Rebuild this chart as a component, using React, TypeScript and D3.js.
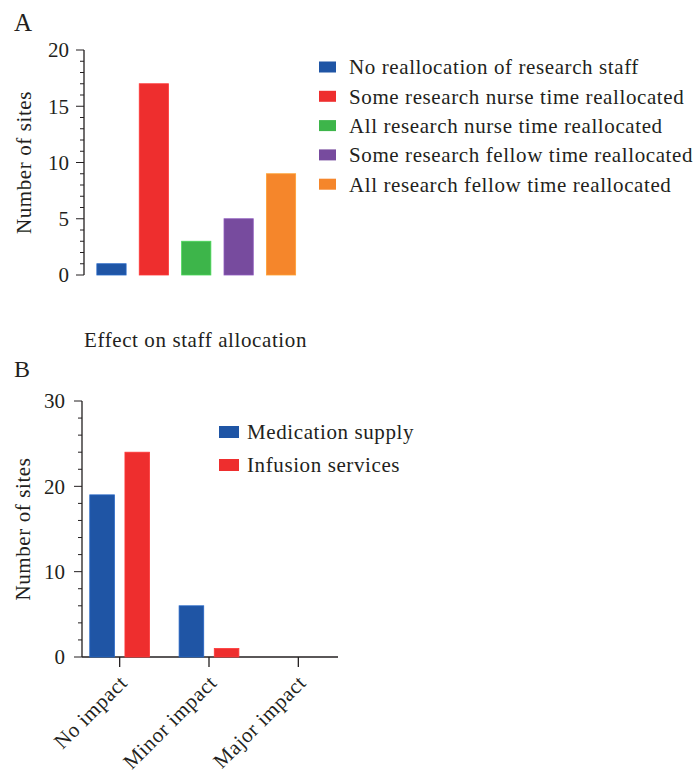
import React from "react";
import * as d3 from "d3";

const allocCategories = [
  "No reallocation of research staff",
  "Some research nurse time reallocated",
  "All research nurse time reallocated",
  "Some research fellow time reallocated",
  "All research fellow time reallocated",
];
const allocValues = [1, 17, 3, 5, 9];
const allocColors = ["#1f55a5", "#ee2e2e", "#3db54a", "#774b9e", "#f5862b"];
const allocTicks = [0, 5, 10, 15, 20];

const impactCategories = ["No impact", "Minor impact", "Major impact"];
const impactSeries = ["Medication supply", "Infusion services"];
const medicationValues = [19, 6, 0];
const infusionValues = [24, 1, 0];
const impactColors = ["#1f55a5", "#ee2e2e"];
const impactTicks = [0, 10, 20, 30];

const FONT = "Liberation Serif, Times New Roman, DejaVu Serif, serif";
const TXT = "#231f20";
const T = { fontFamily: FONT, letterSpacing: "0.6px" } as React.CSSProperties;
const TN = { fontFamily: FONT } as React.CSSProperties;

export default function App() {
  // Panel A
  const aX = 84;
  const yA = d3.scaleLinear().domain([0, 20]).range([275, 50]);
  const xA = d3.scaleBand<string>().domain(allocCategories).range([90.5, 302]).paddingInner(0.31).paddingOuter(0.15);
  const minorA = d3.range(0, 21, 1);

  // Panel B
  const bX = 82;
  const yB = d3.scaleLinear().domain([0, 30]).range([657, 401]);
  const xB = d3.scaleBand<string>().domain(impactCategories).range([75, 343]).padding(0);
  const xSub = d3.scaleBand<string>().domain(impactSeries).range([0, xB.bandwidth()]).paddingInner(0.3).paddingOuter(0.42);
  const minorB = d3.range(0, 31, 2);
  const seriesValues = [medicationValues, infusionValues];

  return (
    <>
      <style>{"html,body{margin:0;padding:0;overflow:hidden;background:#fff}"}</style>
      <svg width={697} height={773} style={{ display: "block", fontFamily: FONT }}>
        {/* Panel A */}
        <g>
          <text x={14} y={31} fontSize={25} fill={TXT} style={TN}>A</text>
          <line x1={aX} x2={aX} y1={yA(20)} y2={yA(0)} stroke={TXT} strokeWidth={1.3} />
          {minorA.map((t) => (
            <line key={"ma" + t} x1={aX - (t % 5 === 0 ? 8 : 4)} x2={aX} y1={yA(t)} y2={yA(t)} stroke={TXT} strokeWidth={1} />
          ))}
          {allocTicks.map((t) => (
            <text key={"ta" + t} x={69} y={yA(t)} dy="0.35em" textAnchor="end" fontSize={21} fill={TXT} style={TN}>{t}</text>
          ))}
          <text transform={`translate(31,${(yA(0) + yA(20)) / 2}) rotate(-90)`} textAnchor="middle" fontSize={21} fill={TXT} style={T}>Number of sites</text>
          {allocCategories.map((c, i) => (
            <rect key={c} x={xA(c)} y={yA(allocValues[i])} width={xA.bandwidth()} height={yA(0) - yA(allocValues[i])}
              fill={allocColors[i]} stroke={d3.color(allocColors[i])!.brighter(0.5).toString()} strokeWidth={0.8} />
          ))}
          {allocCategories.map((c, i) => (
            <g key={"la" + c} transform={`translate(319,${67 + i * 29.3})`}>
              <rect x={0} y={-5.5} width={17} height={11} fill={allocColors[i]} />
              <text x={30} y={0} dy="0.35em" fontSize={21} fill={TXT} style={T}>{c}</text>
            </g>
          ))}
          <text x={84} y={347} fontSize={21} fill={TXT} style={T}>Effect on staff allocation</text>
        </g>

        {/* Panel B */}
        <g>
          <text x={14} y={377} fontSize={24} fill={TXT} style={TN}>B</text>
          <line x1={bX} x2={bX} y1={yB(30)} y2={yB(0)} stroke={TXT} strokeWidth={1.3} />
          <line x1={bX} x2={338} y1={yB(0)} y2={yB(0)} stroke={TXT} strokeWidth={1.3} />
          {minorB.map((t) => (
            <line key={"mb" + t} x1={bX - (t % 10 === 0 ? 8 : 4)} x2={bX} y1={yB(t)} y2={yB(t)} stroke={TXT} strokeWidth={1} />
          ))}
          {impactTicks.map((t) => (
            <text key={"tb" + t} x={65} y={yB(t)} dy="0.35em" textAnchor="end" fontSize={21} fill={TXT} style={TN}>{t}</text>
          ))}
          <text transform={`translate(30,${(yB(0) + yB(30)) / 2}) rotate(-90)`} textAnchor="middle" fontSize={21} fill={TXT} style={T}>Number of sites</text>
          {impactCategories.map((c, ci) => {
            const cx = xB(c)! + xB.bandwidth() / 2;
            return (
              <g key={c}>
                <line x1={cx} x2={cx} y1={yB(0)} y2={yB(0) + 10} stroke={TXT} strokeWidth={1.3} />
                <text transform={`translate(${cx + 9},${yB(0) + 27}) rotate(-45)`} textAnchor="end" fontSize={21} fill={TXT} style={T}>{c}</text>
                {impactSeries.map((s, si) => {
                  const v = seriesValues[si][ci];
                  if (v <= 0) return null;
                  return (
                    <rect key={s} x={xB(c)! + xSub(s)!} y={yB(v)} width={xSub.bandwidth()} height={yB(0) - yB(v)}
                      fill={impactColors[si]} stroke={d3.color(impactColors[si])!.brighter(0.5).toString()} strokeWidth={0.8} />
                  );
                })}
              </g>
            );
          })}
          {impactSeries.map((s, i) => (
            <g key={"lb" + s} transform={`translate(219,${432 + i * 33})`}>
              <rect x={0} y={-6} width={20} height={12} fill={impactColors[i]} />
              <text x={28} y={0} dy="0.35em" fontSize={21} fill={TXT} style={T}>{s}</text>
            </g>
          ))}
        </g>
      </svg>
    </>
  );
}
